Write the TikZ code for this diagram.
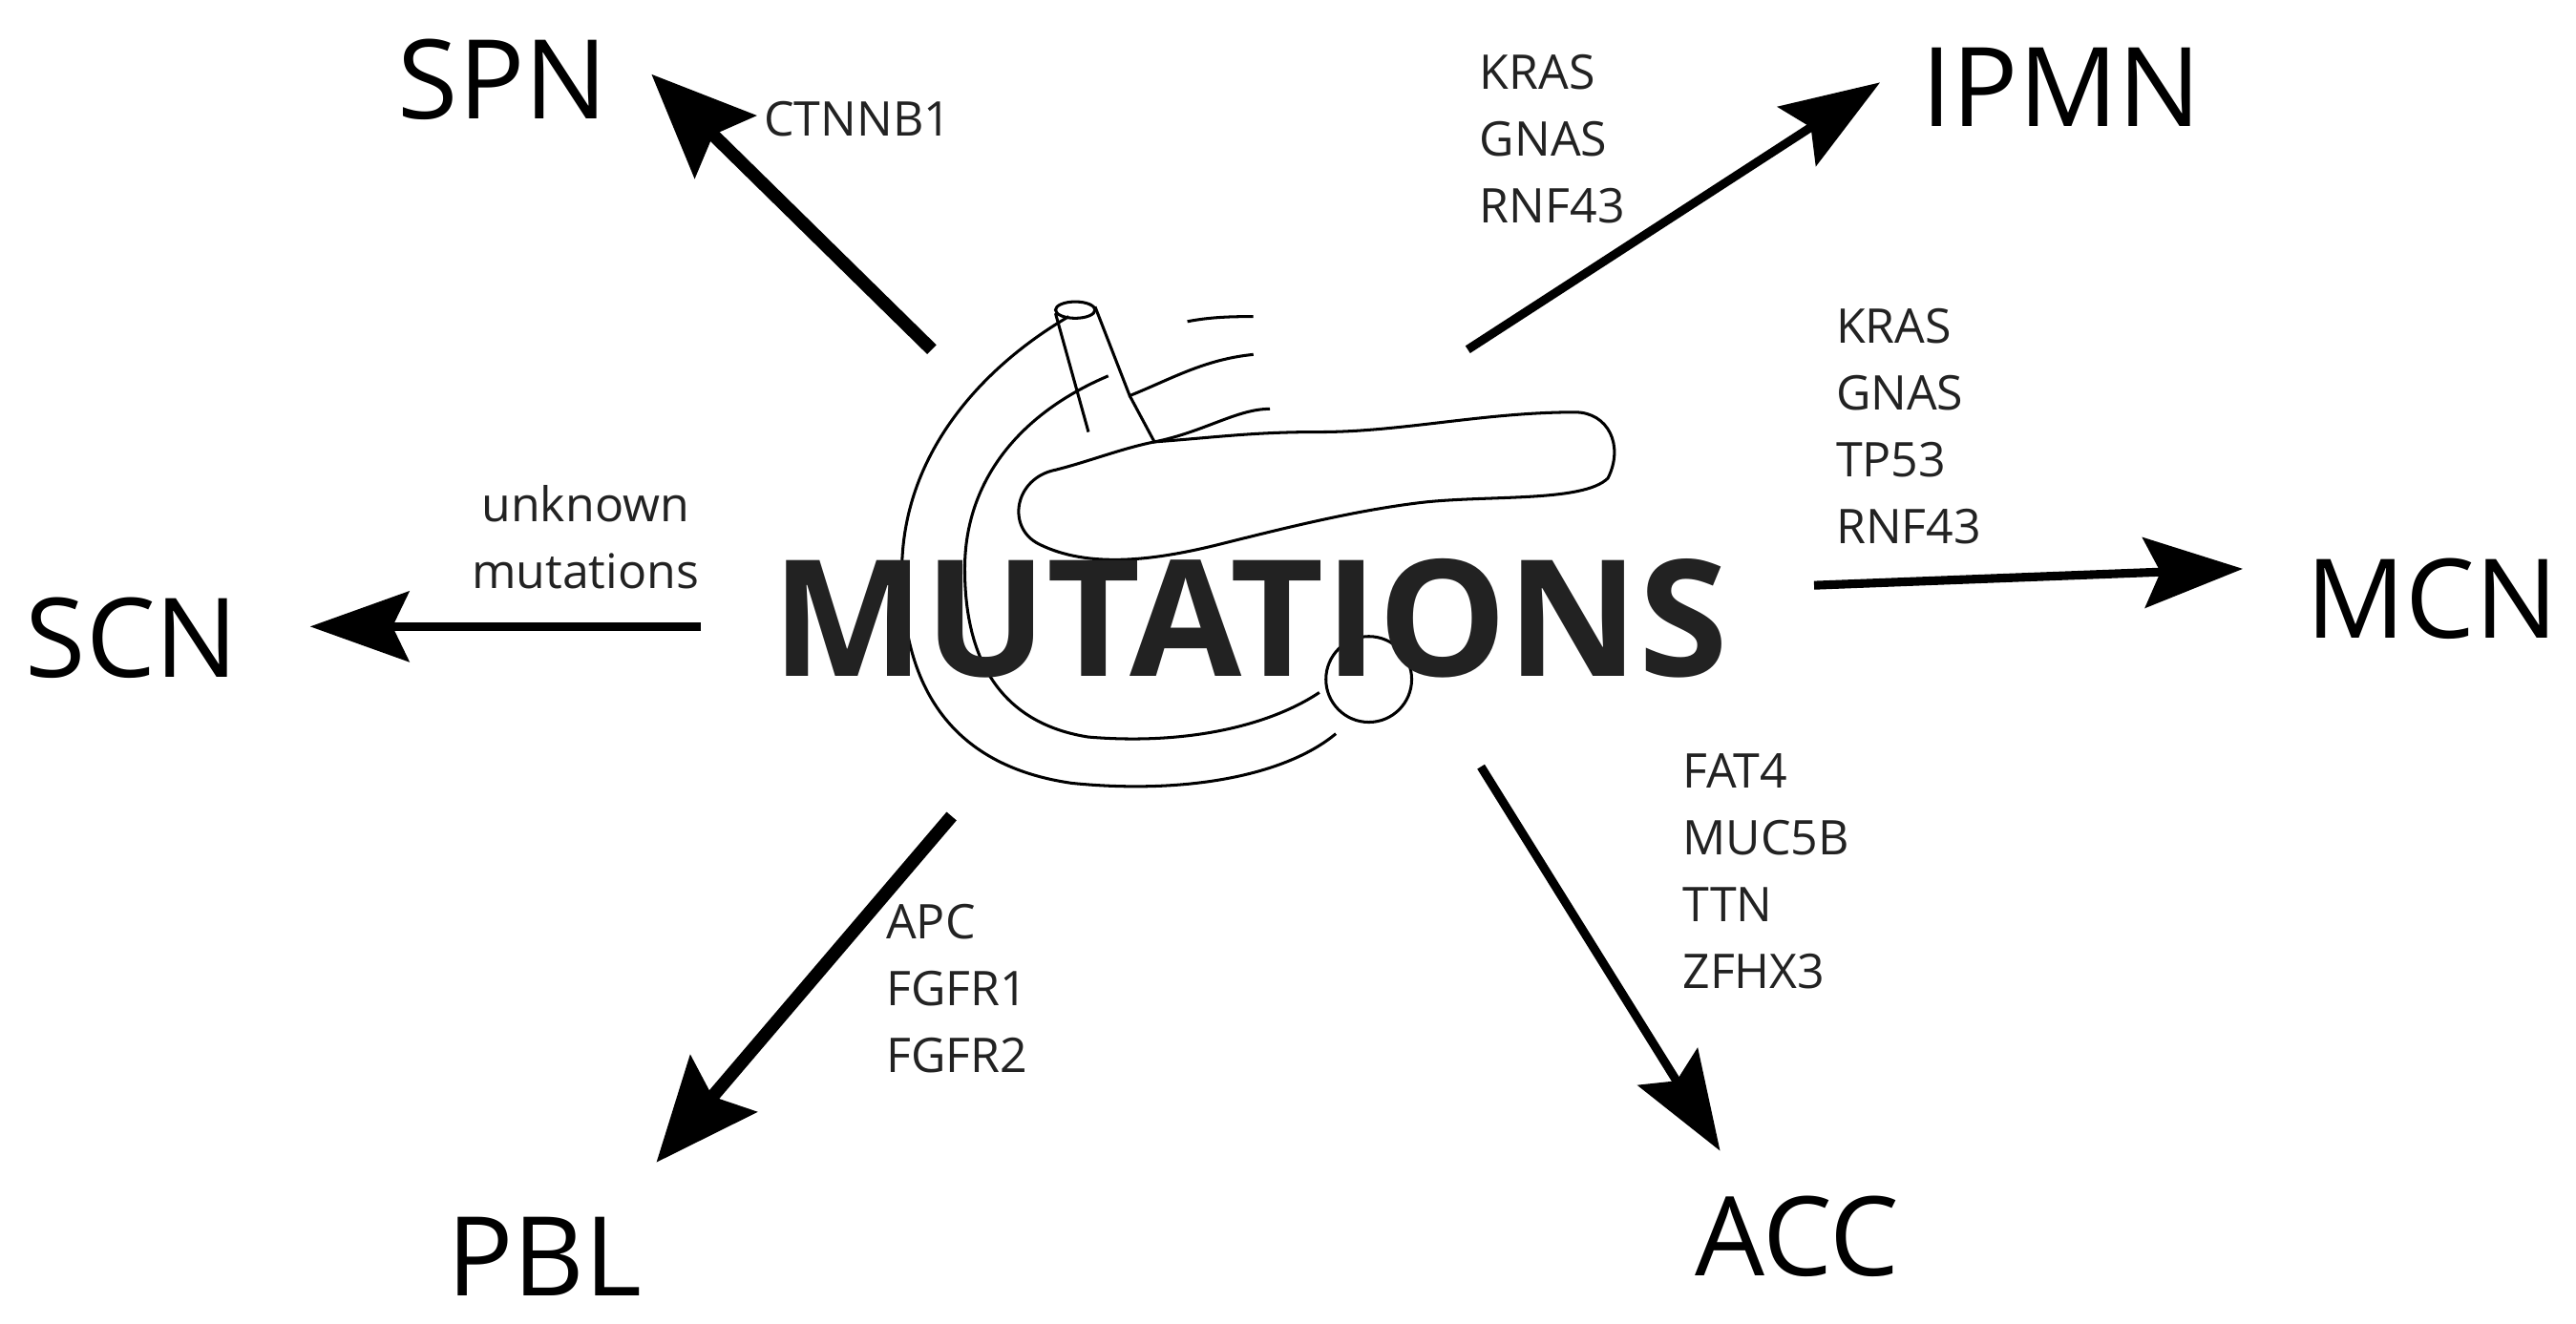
\documentclass[tikz,border=0pt]{standalone}
\usepackage{fontspec}
\setmainfont{Open Sans}
\usetikzlibrary{arrows.meta}
\definecolor{txt}{HTML}{222222}
\begin{document}
\begin{tikzpicture}[x=0.02cm,y=-0.02cm,
  big/.style={font=\fontsize{38}{42}\selectfont},
  gene/.style={font=\fontsize{16.5}{19}\selectfont,align=left,anchor=north west,inner sep=0pt,text=txt},
  arr/.style={line width=4.5pt,-{Stealth[length=1.25cm,width=1.05cm,inset=0.2cm]}},
  arrt/.style={line width=3pt,-{Stealth[length=1.2cm,width=0.85cm,inset=0.2cm]}},
  organ/.style={line width=1pt}]
\useasboundingbox (0,0) rectangle (1562,803);
% pancreas sketch
\draw[organ] (648,192) .. controls (600,220) and (550,270) .. (547,340) .. controls (545,420) and (580,465) .. (650,475) .. controls (720,482) and (780,470) .. (810,445);
\draw[organ] (672,228) .. controls (620,250) and (585,290) .. (585,345) .. controls (585,410) and (615,440) .. (660,447) .. controls (720,452) and (770,440) .. (800,420);
\draw[organ] (640,190) -- (660,262);
\draw[organ] (664,186) -- (685,240) .. controls (710,230) and (730,218) .. (760,215);
\draw[organ] (652,188) ellipse (12 and 5);
\draw[organ] (685,240) -- (700,268) .. controls (730,262) and (750,248) .. (770,248);
\draw[organ] (700,268) .. controls (740,265) and (760,262) .. (800,262) .. controls (850,262) and (900,250) .. (955,250) .. controls (975,250) and (985,270) .. (975,290) .. controls (960,305) and (900,300) .. (860,305) .. controls (820,310) and (780,320) .. (740,330) .. controls (700,340) and (660,345) .. (630,330) .. controls (610,320) and (615,290) .. (640,285) .. controls (660,280) and (680,272) .. (700,268);
\draw[organ] (830,412) circle (26);
\draw[organ] (720,195) .. controls (735,192) and (750,192) .. (760,192);
% center text
\node[text=txt] (mut) at (758,375) {\fontsize{56}{64}\selectfont\bfseries MUTATIONS};
% targets
\node[big] (spn) at (305,48) {SPN};
\node[big] (ipmn) at (1250,53) {IPMN};
\node[big] (mcn) at (1475,363) {MCN};
\node[big] (scn) at (80,387) {SCN};
\node[big] (pbl) at (330,762) {PBL};
\node[big] (acc) at (1090,750) {ACC};
% arrows
\coordinate (s1) at (565,212); \coordinate (s2) at (395,45);
\draw[arr] (s1) -- (s2);
\coordinate (i1) at (890,212); \coordinate (i2) at (1140,50);
\draw[arrt] (i1) -- (i2);
\coordinate (m1) at (1100,355); \coordinate (m2) at (1360,345);
\draw[arrt] (m1) -- (m2);
\coordinate (c1) at (425,380); \coordinate (c2) at (188,380);
\draw[arrt] (c1) -- (c2);
\coordinate (p1) at (577,495); \coordinate (p2) at (398,705);
\draw[arr] (p1) -- (p2);
\coordinate (a1) at (898,465); \coordinate (a2) at (1043,698);
\draw[arrt] (a1) -- (a2);
% genes
\node[gene] (g1) at (463,61) {CTNNB1};
\node[gene] (g2) at (897,33) {KRAS\\[4pt]GNAS\\[4pt]RNF43};
\node[gene] (g3) at (1113,187) {KRAS\\[4pt]GNAS\\[4pt]TP53\\[4pt]RNF43};
\node[gene,align=center,anchor=center] (g4) at (355,326) {unknown\\[4pt]mutations};
\node[gene] (g5) at (537,548) {APC\\[4pt]FGFR1\\[4pt]FGFR2};
\node[gene] (g6) at (1020,457) {FAT4\\[4pt]MUC5B\\[4pt]TTN\\[4pt]ZFHX3};
\end{tikzpicture}
\end{document}
